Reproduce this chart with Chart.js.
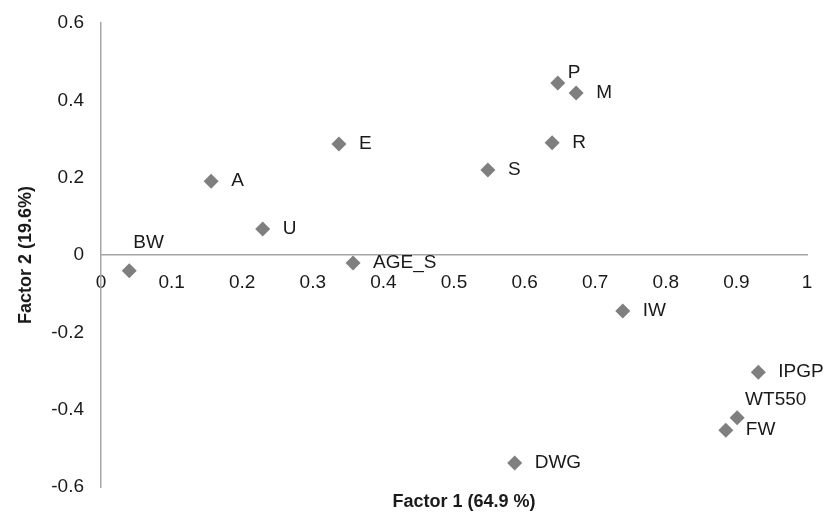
<!DOCTYPE html>
<html>
<head>
<meta charset="utf-8">
<script src="https://cdn.jsdelivr.net/npm/chart.js@4.4.1/dist/chart.umd.min.js"></script>
<style>
  html, body { margin: 0; padding: 0; background: #fff; }
  #wrap { width: 837px; height: 515px; }
</style>
</head>
<body>
<div id="wrap"><canvas id="factorChart"></canvas></div>
<script>
// Factor loadings
const names   = ['BW', 'A', 'U', 'E', 'AGE_S', 'S', 'R', 'P', 'M', 'IW', 'IPGP', 'WT550', 'FW', 'DWG'];
const factor1 = [0.040, 0.156, 0.229, 0.337, 0.357, 0.548, 0.639, 0.647, 0.673, 0.739, 0.931, 0.901, 0.885, 0.586];
const factor2 = [-0.041, 0.191, 0.067, 0.287, -0.021, 0.220, 0.290, 0.445, 0.419, -0.145, -0.303, -0.421, -0.453, -0.538];
const xTicks  = [0, 0.1, 0.2, 0.3, 0.4, 0.5, 0.6, 0.7, 0.8, 0.9, 1];
const yTicks  = [-0.6, -0.4, -0.2, 0, 0.2, 0.4, 0.6];
const xTitle  = 'Factor 1 (64.9 %)';
const yTitle  = 'Factor 2 (19.6%)';

const FONT = '"Liberation Sans", Arial, Helvetica, sans-serif';
const TEXT = '#1a1a1a';
const AXIS = '#a6a6a6';

// labels sit to the right of the marker, a few are nudged
const labelNudge = {
  BW:    { dx: 4,  dy: -28 },
  P:     { dx: 10, dy: -10 },
  WT550: { dx: 8,  dy: -18 }
};

const pointLabels = {
  id: 'pointLabels',
  afterDatasetsDraw(chart) {
    const ctx = chart.ctx;
    const meta = chart.getDatasetMeta(0);
    ctx.save();
    ctx.font = '19px ' + FONT;
    ctx.fillStyle = TEXT;
    ctx.textAlign = 'left';
    ctx.textBaseline = 'middle';
    meta.data.forEach((pt, i) => {
      const n = labelNudge[names[i]] || { dx: 20, dy: 0 };
      ctx.fillText(names[i], pt.x + n.dx, pt.y + n.dy);
    });
    ctx.restore();
  }
};

const axisTitles = {
  id: 'axisTitles',
  afterDraw(chart) {
    const ctx = chart.ctx;
    const a = chart.chartArea;
    ctx.save();
    ctx.font = 'bold 18px ' + FONT;
    ctx.fillStyle = TEXT;
    ctx.textAlign = 'center';
    ctx.textBaseline = 'middle';
    ctx.fillText(xTitle, (a.left + a.right) / 2 + 10, 502);
    ctx.translate(26, (a.top + a.bottom) / 2);
    ctx.rotate(-Math.PI / 2);
    ctx.fillText(yTitle, 0, 0);
    ctx.restore();
  }
};

new Chart(document.getElementById('factorChart'), {
  type: 'scatter',
  data: {
    datasets: [{
      data: factor1.map((x, i) => ({ x: x, y: factor2[i] })),
      pointStyle: 'rectRot',
      pointRadius: 7.5,
      pointHoverRadius: 7.5,
      backgroundColor: '#7f7f7f',
      borderWidth: 0
    }]
  },
  options: {
    responsive: true,
    maintainAspectRatio: false,
    animation: false,
    layout: { padding: { top: 23, right: 30, bottom: 28, left: 0 } },
    plugins: {
      legend: { display: false },
      tooltip: { enabled: false }
    },
    scales: {
      x: {
        type: 'linear',
        position: { y: 0 },
        min: 0,
        max: 1,
        afterBuildTicks: s => { s.ticks = xTicks.map(v => ({ value: v })); },
        grid: { display: false },
        border: { color: AXIS, width: 1.5 },
        ticks: {
          color: TEXT,
          font: { family: FONT, size: 19 },
          padding: 8,
          maxRotation: 0,
          autoSkip: false,
          callback: v => String(v)
        }
      },
      y: {
        type: 'linear',
        min: -0.6,
        max: 0.6,
        afterBuildTicks: s => { s.ticks = yTicks.map(v => ({ value: v })); },
        afterFit: s => { s.width = 101; },
        grid: { display: false },
        border: { color: AXIS, width: 1.5 },
        ticks: {
          color: TEXT,
          font: { family: FONT, size: 19 },
          padding: 9,
          autoSkip: false,
          callback: v => String(v)
        }
      }
    }
  },
  plugins: [pointLabels, axisTitles]
});
</script>
</body>
</html>
